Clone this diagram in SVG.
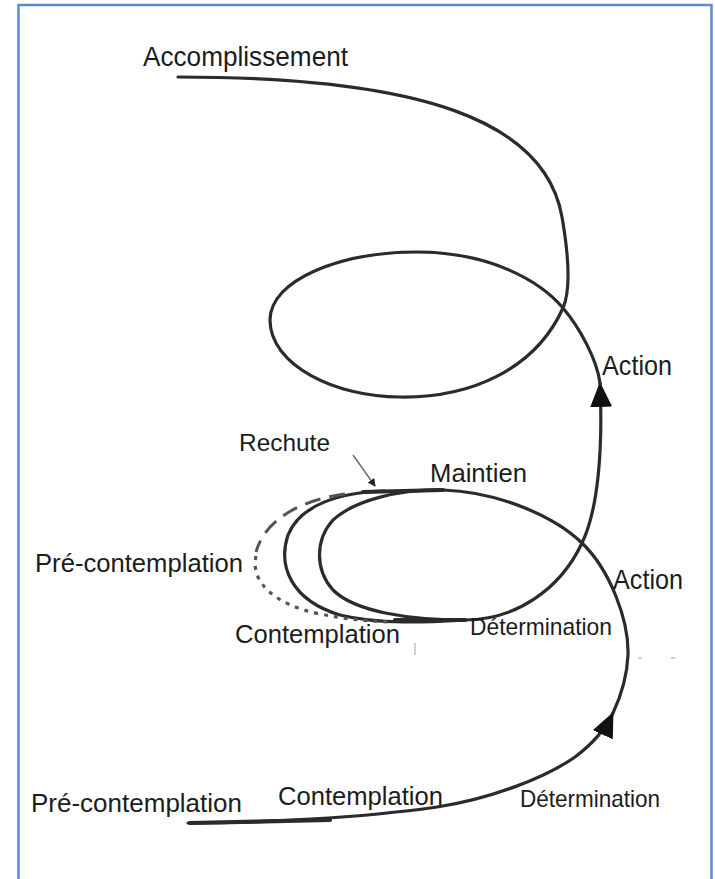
<svg xmlns="http://www.w3.org/2000/svg" width="715" height="879" viewBox="0 0 715 879">
<style>
  .lbl { font-family: "Liberation Sans", Arial, sans-serif; fill: #1c1c1c; }
  .curve { fill: none; stroke: #2b2b2b; stroke-width: 3.2; stroke-linecap: round; stroke-linejoin: round; }
  .thick { fill: none; stroke: #2b2b2b; stroke-width: 4.2; stroke-linecap: round; }
  .dash { fill: none; stroke: #555; stroke-width: 3; stroke-dasharray: 16 9; }
  .dot { fill: none; stroke: #555; stroke-width: 3.2; stroke-dasharray: 4 6; }
  .faint { stroke: #b0b0b0; stroke-width: 1.2; fill: none; }
</style>
<defs>
  <marker id="bigArrow" viewBox="0 0 25 22" refX="24" refY="11" markerWidth="25" markerHeight="22" markerUnits="userSpaceOnUse" orient="auto">
    <path d="M0,0 L25,11 L0,22 z" fill="#111"/>
  </marker>
  <marker id="smallArrow" viewBox="0 0 8 8" refX="7" refY="4" markerWidth="8" markerHeight="8" markerUnits="userSpaceOnUse" orient="auto">
    <path d="M0,0 L8,4 L0,8 z" fill="#222"/>
  </marker>
</defs>
<rect x="0" y="0" width="715" height="879" fill="#ffffff"/>
<rect x="18.5" y="5" width="693" height="900" fill="none" stroke="#5b8bd0" stroke-width="2.5"/>

<g id="connectors">
  <path class="curve" d="M188,823 C260,823 360,818 437,807 C490,799 545,778 575,757 C595,742 606,728 613,713" marker-end="url(#bigArrow)"/>
  <path class="curve" d="M613,713 C620,698 627,680 628,655 C629,620 610,570 582,543 C555,517 500,492 443,490 C400,489 355,500 333,520 C315,540 315,570 333,590 C355,612 410,620 465,620 C515,620 560,590 582,543 C598,510 603,450 600,383" marker-end="url(#bigArrow)"/>
  <path class="curve" d="M600,383 C597,360 580,328 563,308 C540,281 490,252 417,252 C340,252 270,280 270,320 C270,365 335,397 400,397 C470,398 535,370 563,308 C573,285 566,240 562,217 C545,120 420,77 178,77"/>
  <path class="curve" d="M385,491 C340,492 300,505 288,535 C278,565 290,600 340,615 C380,625 430,622 465,620"/>
  <path class="dash" d="M345,494 C300,500 265,520 256,552"/>
  <path class="dot" d="M256,556 C250,582 275,605 320,614 C345,619 365,621 390,622"/>
  <line class="thick" x1="363" y1="492" x2="443" y2="490"/>
  <line class="thick" x1="395" y1="620" x2="465" y2="620"/>
  <line class="thick" x1="190" y1="823" x2="330" y2="820"/>
  <line x1="353" y1="455" x2="375" y2="486" stroke="#6a6a6a" stroke-width="1.4" marker-end="url(#smallArrow)"/>
</g>

<g id="artifacts">
  <line class="faint" x1="415" y1="643" x2="415" y2="655"/>
  <line class="faint" x1="638" y1="658" x2="642" y2="658"/>
  <line class="faint" x1="671" y1="658" x2="675" y2="658"/>
</g>

<g id="node-accomplissement"><text class="lbl" x="143" y="66" font-size="27" textLength="205" lengthAdjust="spacingAndGlyphs">Accomplissement</text></g>
<g id="node-action-top"><text class="lbl" x="602" y="375" font-size="28" textLength="70" lengthAdjust="spacingAndGlyphs">Action</text></g>
<g id="node-rechute"><text class="lbl" x="239" y="451" font-size="24" textLength="91" lengthAdjust="spacingAndGlyphs">Rechute</text></g>
<g id="node-maintien"><text class="lbl" x="430" y="482" font-size="25" textLength="97" lengthAdjust="spacingAndGlyphs">Maintien</text></g>
<g id="node-precontemplation-mid"><text class="lbl" x="35" y="572" font-size="25" textLength="208" lengthAdjust="spacingAndGlyphs">Pré-contemplation</text></g>
<g id="node-action-mid"><text class="lbl" x="613" y="589" font-size="28" textLength="70" lengthAdjust="spacingAndGlyphs">Action</text></g>
<g id="node-contemplation-mid"><text class="lbl" x="235" y="643" font-size="25" textLength="165" lengthAdjust="spacingAndGlyphs">Contemplation</text></g>
<g id="node-determination-mid"><text class="lbl" x="470" y="635" font-size="24" textLength="142" lengthAdjust="spacingAndGlyphs">Détermination</text></g>
<g id="node-precontemplation-bottom"><text class="lbl" x="31" y="812" font-size="25" textLength="211" lengthAdjust="spacingAndGlyphs">Pré-contemplation</text></g>
<g id="node-contemplation-bottom"><text class="lbl" x="278" y="805" font-size="25" textLength="165" lengthAdjust="spacingAndGlyphs">Contemplation</text></g>
<g id="node-determination-bottom"><text class="lbl" x="520" y="807" font-size="24" textLength="140" lengthAdjust="spacingAndGlyphs">Détermination</text></g>
</svg>
